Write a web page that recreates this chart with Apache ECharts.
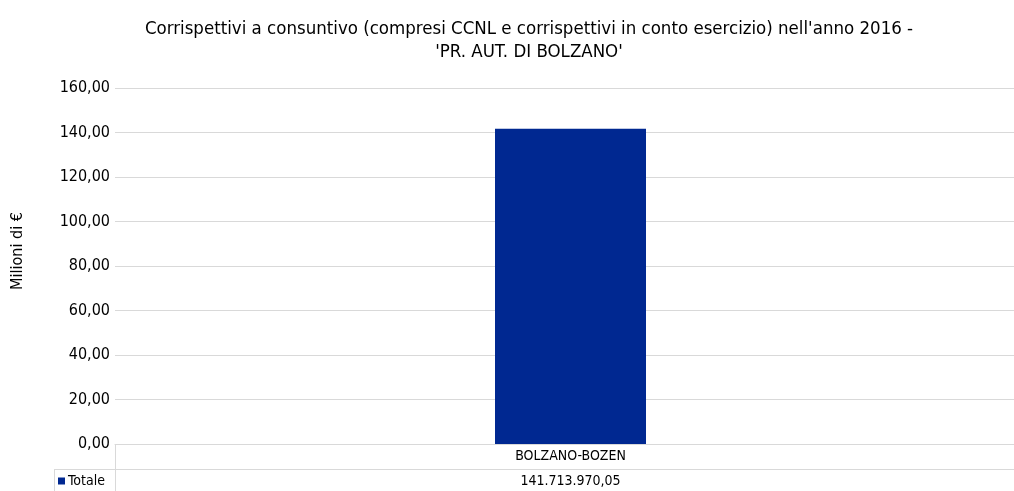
<!DOCTYPE html>
<html><head><meta charset="utf-8">
<script src="https://cdn.jsdelivr.net/npm/echarts@6/dist/echarts.min.js"></script>
<style>html,body{margin:0;padding:0;background:#fff}#c{width:1014px;height:491px}</style>
</head><body><div id="c"></div>
<script>
const categories = ['BOLZANO-BOZEN'];
const seriesName = 'Totale';
const values = [141.71397005];
const tableValues = ['141.713.970,05'];
const yTicks = {min: 0, max: 160, interval: 20};

const FONT = '"Liberation Sans Narrow","DejaVu Sans Condensed","Roboto Condensed",sans-serif';
const chart = echarts.init(document.getElementById('c'));
chart.setOption({
  animation: false,
  title: {
    text: "Corrispettivi a consuntivo (compresi CCNL e corrispettivi in conto esercizio) nell'anno 2016 -\n'PR. AUT. DI BOLZANO'",
    left: 524, top: 13, textAlign: 'center',
    textStyle: {fontFamily: FONT, fontSize: 18.5, fontWeight: 'normal', color: '#000', lineHeight: 23}
  },
  legend: {
    data: [seriesName], left: 58, top: 474, icon: 'rect', itemWidth: 7, itemHeight: 7, itemGap: 4,
    textStyle: {fontFamily: FONT, fontSize: 14, color: '#000', padding: [0,0,0,-2]}, padding: 0
  },
  grid: {left: 115, width: 911, top: 88, bottom: 47, outerBoundsMode: 'none', containLabel: false},
  xAxis: [{
    type: 'category', data: categories, position: 'bottom',
    axisLine: {lineStyle: {color: '#d9d9d9'}}, axisTick: {show: false},
    axisLabel: {fontFamily: FONT, fontSize: 14, color: '#000', margin: 5}
  }, {
    type: 'category', data: categories, position: 'bottom', offset: 25,
    axisLine: {show: false}, axisTick: {show: false},
    axisLabel: {fontFamily: FONT, fontSize: 14, color: '#000', margin: 5,
      formatter: (v, i) => tableValues[i]}
  }],
  yAxis: {
    type: 'value', min: yTicks.min, max: yTicks.max, interval: yTicks.interval,
    axisLine: {show: false}, axisTick: {show: false},
    splitLine: {lineStyle: {color: '#d9d9d9'}},
    axisLabel: {fontFamily: FONT, fontSize: 16, color: '#000', margin: 5,
      formatter: v => v.toFixed(2).replace('.', ',')}
  },
  series: [{
    name: seriesName, type: 'bar', data: values, barWidth: 151,
    itemStyle: {color: '#002891'}
  }],
  graphic: [
    {type: 'text', x: 18, y: 251, rotation: Math.PI / 2,
      style: {text: 'Milioni di €', font: '16px ' + FONT, fill: '#000', align: 'center', verticalAlign: 'middle'}},
    {type: 'line', shape: {x1: 54, y1: 469.5, x2: 1014, y2: 469.5}, style: {stroke: '#d9d9d9', lineWidth: 1}},
    {type: 'line', shape: {x1: 54.5, y1: 469, x2: 54.5, y2: 491}, style: {stroke: '#d9d9d9', lineWidth: 1}},
    {type: 'line', shape: {x1: 115.5, y1: 444, x2: 115.5, y2: 491}, style: {stroke: '#d9d9d9', lineWidth: 1}}
  ]
});
</script></body></html>
